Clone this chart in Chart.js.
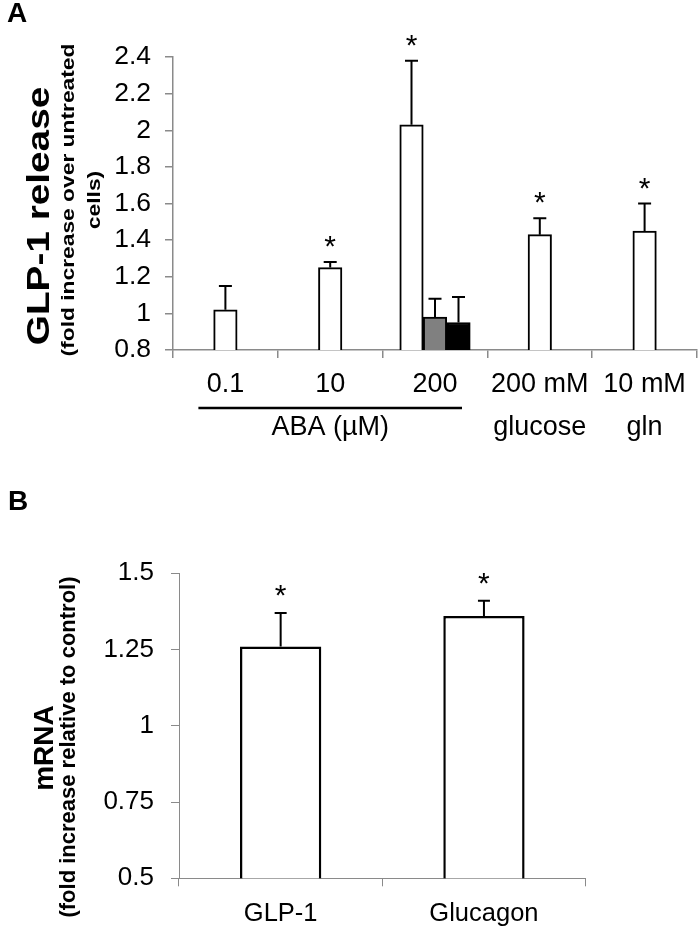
<!DOCTYPE html>
<html>
<head>
<meta charset="utf-8">
<script src="https://cdn.jsdelivr.net/npm/chart.js@4.4.0/dist/chart.umd.min.js"></script>
<style>
  html, body { margin: 0; padding: 0; background: #fff; }
  .panel { position: relative; width: 700px; }
  #panelA { height: 470px; }
  #panelB { height: 461px; }
</style>
</head>
<body>
<div class="panel" id="panelA"><canvas id="chartA"></canvas></div>
<div class="panel" id="panelB"><canvas id="chartB"></canvas></div>
<script>
// Panel A - GLP-1 release
const releaseLabels = [["0.1"], ["10", "ABA (\u00b5M)"], ["200"], ["200 mM", "glucose"], ["10 mM", "gln"]];
const releaseWhite = [1.02, 1.25, 2.03, 1.43, 1.45];
const releaseWhiteErr = [1.15, 1.28, 2.38, 1.52, 1.60];
const releaseGray = [null, null, 0.98, null, null];
const releaseGrayErr = [null, null, 1.08, null, null];
const releaseBlack = [null, null, 0.95, null, null];
const releaseBlackErr = [null, null, 1.09, null, null];
const releaseStars = [false, true, true, true, true];
const releaseTicks = ["0.8", "1", "1.2", "1.4", "1.6", "1.8", "2", "2.2", "2.4"];

// Panel B - mRNA
const mrnaLabels = ["GLP-1", "Glucagon"];
const mrnaValues = [1.26, 1.36];
const mrnaErr = [1.37, 1.41];
const mrnaStars = [true, true];
const mrnaTicks = ["0.5", "0.75", "1", "1.25", "1.5"];

const AXIS_GRAY = "#8a8a8a";
const SANS = "'Liberation Sans', Arial, sans-serif";

Chart.defaults.font.family = SANS;
Chart.defaults.color = "#000";

function tickFrom(list) {
  return function (value) {
    const hit = list.find(t => Math.abs(parseFloat(t) - value) < 1e-6);
    return hit === undefined ? "" : hit;
  };
}

function drawRotated(ctx, t) {
  ctx.save();
  ctx.translate(t.x, t.y);
  ctx.rotate(-Math.PI / 2);
  ctx.scale(t.stretch || 1, 1);
  ctx.font = t.font;
  ctx.textAlign = "center";
  ctx.textBaseline = "middle";
  ctx.fillStyle = "#000";
  ctx.fillText(t.text, 0, 0);
  ctx.restore();
}

// error bars, asterisks, axis titles, panel letter, ABA underline
const extras = {
  id: "extras",
  afterDatasetsDraw(chart, args, opts) {
    const ctx = chart.ctx;
    const y = chart.scales.y;
    chart.data.datasets.forEach((ds, di) => {
      const meta = chart.getDatasetMeta(di);
      meta.data.forEach((bar, i) => {
        if (ds.data[i] == null || !ds.errTop) return;
        const top = y.getPixelForValue(ds.errTop[i]);
        ctx.save();
        ctx.strokeStyle = "#000";
        ctx.lineWidth = opts.errWidth;
        ctx.beginPath();
        ctx.moveTo(bar.x, bar.y);
        ctx.lineTo(bar.x, top);
        ctx.moveTo(bar.x - opts.cap / 2, top);
        ctx.lineTo(bar.x + opts.cap / 2, top);
        ctx.stroke();
        if (ds.stars && ds.stars[i]) {
          ctx.font = opts.starSize + "px " + SANS;
          ctx.fillStyle = "#000";
          ctx.textAlign = "center";
          ctx.textBaseline = "alphabetic";
          ctx.fillText("*", bar.x, top - opts.starGap + opts.starSize * 0.57);
        }
        ctx.restore();
      });
    });
  },
  afterDraw(chart, args, opts) {
    const ctx = chart.ctx;
    ctx.save();
    ctx.font = "bold 28px " + SANS;
    ctx.fillStyle = "#000";
    ctx.textAlign = "left";
    ctx.textBaseline = "alphabetic";
    ctx.fillText(opts.letter.text, opts.letter.x, opts.letter.y);
    ctx.restore();
    opts.titles.forEach(t => drawRotated(ctx, t));
    if (opts.underline) {
      const x = chart.scales.x;
      const u = opts.underline;
      const yy = chart.chartArea.bottom + u.dy;
      ctx.save();
      ctx.strokeStyle = "#000";
      ctx.lineWidth = 2.5;
      ctx.beginPath();
      ctx.moveTo(x.getPixelForValue(u.from) - u.pad, yy);
      ctx.lineTo(x.getPixelForValue(u.to) + u.pad, yy);
      ctx.stroke();
      ctx.restore();
    }
  }
};

// Panel A chart
new Chart(document.getElementById("chartA"), {
  type: "bar",
  data: {
    labels: releaseLabels,
    datasets: [
      { data: releaseWhite, errTop: releaseWhiteErr, stars: releaseStars, backgroundColor: "#fff" },
      { data: releaseGray, errTop: releaseGrayErr, backgroundColor: "#808080" },
      { data: releaseBlack, errTop: releaseBlackErr, backgroundColor: "#000" }
    ]
  },
  options: {
    responsive: true,
    maintainAspectRatio: false,
    animation: false,
    skipNull: true,
    barThickness: 23.5,
    borderColor: "#000",
    borderWidth: 2,
    borderSkipped: false,
    layout: { padding: { top: 57, right: 3, left: 0, bottom: 0 } },
    scales: {
      x: {
        afterFit(scale) { scale.height = 120; },
        grid: { offset: true, drawOnChartArea: false, tickLength: 8, color: AXIS_GRAY, lineWidth: 1.5 },
        border: { color: AXIS_GRAY, width: 1.5 },
        ticks: { font: { size: 27, lineHeight: 1.6 }, padding: 5, maxRotation: 0, autoSkip: false, color: "#000" }
      },
      y: {
        min: 0.8,
        max: 2.4,
        afterFit(scale) { scale.width = 173; },
        grid: { drawOnChartArea: false, tickLength: 8, color: AXIS_GRAY, lineWidth: 1.5 },
        border: { color: AXIS_GRAY, width: 1.5 },
        ticks: { stepSize: 0.2, font: { size: 26.5 }, padding: 14, color: "#000", callback: tickFrom(releaseTicks) }
      }
    },
    plugins: {
      legend: { display: false },
      tooltip: { enabled: false },
      extras: {
        errWidth: 2, cap: 13, starSize: 30, starGap: 23,
        letter: { text: "A", x: 7, y: 22 },
        underline: { from: 0, to: 2, pad: 27, dy: 58 },
        titles: [
          { text: "GLP-1 release", x: 40, y: 216, font: "bold 31px " + SANS, stretch: 1.25 },
          { text: "(fold increase over untreated", x: 69, y: 200, font: "bold 19px " + SANS, stretch: 1.2 },
          { text: "cells)", x: 95, y: 200, font: "bold 19px " + SANS, stretch: 1.2 }
        ]
      }
    }
  },
  plugins: [extras]
});

// Panel B chart
new Chart(document.getElementById("chartB"), {
  type: "bar",
  data: {
    labels: mrnaLabels,
    datasets: [
      { data: mrnaValues, errTop: mrnaErr, stars: mrnaStars, backgroundColor: "#fff" }
    ]
  },
  options: {
    responsive: true,
    maintainAspectRatio: false,
    animation: false,
    categoryPercentage: 1,
    barPercentage: 0.4,
    borderColor: "#000",
    borderWidth: 2.5,
    borderSkipped: false,
    layout: { padding: { top: 103.3, right: 114.4, left: 0, bottom: 0 } },
    scales: {
      x: {
        afterFit(scale) { scale.height = 52.7; },
        grid: { offset: true, drawOnChartArea: false, tickLength: 8, color: AXIS_GRAY, lineWidth: 1 },
        border: { color: AXIS_GRAY, width: 1 },
        ticks: { font: { size: 25.5 }, padding: 12, maxRotation: 0, color: "#000" }
      },
      y: {
        min: 0.5,
        max: 1.5,
        afterFit(scale) { scale.width = 179; },
        grid: { drawOnChartArea: false, tickLength: 8, color: AXIS_GRAY, lineWidth: 1 },
        border: { color: AXIS_GRAY, width: 1 },
        ticks: { stepSize: 0.25, font: { size: 26 }, padding: 17, color: "#000", callback: tickFrom(mrnaTicks) }
      }
    },
    plugins: {
      legend: { display: false },
      tooltip: { enabled: false },
      extras: {
        errWidth: 2, cap: 12, starSize: 30, starGap: 25,
        letter: { text: "B", x: 8, y: 40 },
        underline: null,
        titles: [
          { text: "mRNA", x: 45, y: 278, font: "bold 28px " + SANS, stretch: 1 },
          { text: "(fold increase relative to control)", x: 69, y: 277, font: "bold 22px " + SANS, stretch: 1 }
        ]
      }
    }
  },
  plugins: [extras]
});
</script>
</body>
</html>
